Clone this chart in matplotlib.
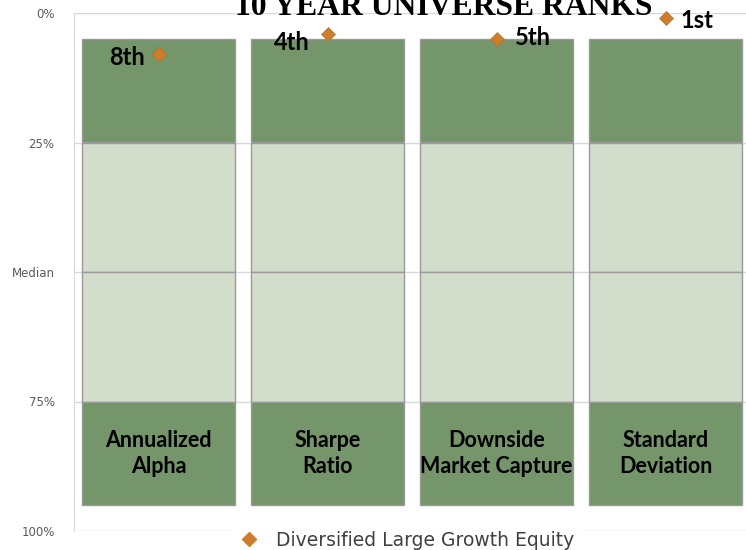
import numpy as np
import matplotlib
matplotlib.use("Agg")
import matplotlib.pyplot as plt
from matplotlib.lines import Line2D

# data
categories = ["Annualized\nAlpha", "Sharpe\nRatio", "Downside\nMarket Capture", "Standard\nDeviation"]
seg_bottom = [5, 25, 50, 75]     # universe percentile bands
seg_height = [20, 25, 25, 20]
ranks = [8, 4, 5, 1]
rank_labels = ["8th", "4th", "5th", "1st"]
ytick_vals = [0, 25, 50, 75, 100]
ytick_labels = ["0%", "25%", "Median", "75%", "100%"]
series_name = "Diversified Large Growth Equity"

# styles
dark = "#75956a"
light = "#d2ddcc"
seg_colors = [dark, light, light, dark]
orange = "#cd7d2b"
# label offsets (points) and alignment for each rank label
lab_off = [(-10, -2), (-13, -6), (13, 1), (11, -1.5)]
lab_ha = ["right", "right", "left", "left"]

fig = plt.figure(figsize=(7.46, 5.5), dpi=100)
ax = fig.add_axes([74/746, 19/550, 676/746, 518/550])

x = np.arange(len(categories))
for b, h, c in zip(seg_bottom, seg_height, seg_colors):
    ax.bar(x, h, bottom=b, width=0.91, color=c, edgecolor="#9a9a9a", linewidth=1, zorder=2)

for i, cat in enumerate(categories):
    ax.text(x[i], seg_bottom[3] + seg_height[3] / 2, cat, ha="center", va="center",
            fontsize=15.5, fontweight="bold", family="Lato", linespacing=1.32, zorder=4)

ax.plot(x, ranks, linestyle="none", marker="D", markersize=7.5, color=orange,
        markeredgecolor="#c0701f", markeredgewidth=0.5, zorder=5, clip_on=False)
for i, r in enumerate(ranks):
    ax.annotate(rank_labels[i], (x[i], r), xytext=lab_off[i], textcoords="offset points",
                ha=lab_ha[i], va="center", fontsize=17, fontweight="bold",
                family="Lato", zorder=5, annotation_clip=False)

ax.set_xlim(-0.5, 3.5)
ax.set_ylim(100, 0)
ax.set_yticks(ytick_vals)
ax.set_yticklabels(ytick_labels)
ax.set_xticks([])
ax.tick_params(axis="y", length=0, pad=14, labelsize=8.5, labelcolor="#595959")
ax.yaxis.grid(True, color="#d9d9d9", linewidth=1, zorder=0)
ax.set_axisbelow(True)
for s in ["top", "right", "bottom"]:
    ax.spines[s].set_visible(False)
ax.spines["left"].set_color("#d9d9d9")

fig.text(444/746, 1 - 15/550, "10 YEAR UNIVERSE RANKS", ha="center", va="baseline",
         family="Liberation Serif", fontweight="bold", fontsize=22.8)

handle = Line2D([], [], linestyle="none", marker="D", markersize=7.5, color=orange)
leg = fig.legend([handle], [series_name], loc="center", bbox_to_anchor=(407/746, 1 - 540/550),
                 frameon=True, facecolor="white", edgecolor="none", framealpha=1,
                 fontsize=13.5, handlelength=1.0, handletextpad=0.9, borderpad=0.4)
for t in leg.get_texts():
    t.set_color("#404040")

fig.savefig("out.png", dpi=100)
